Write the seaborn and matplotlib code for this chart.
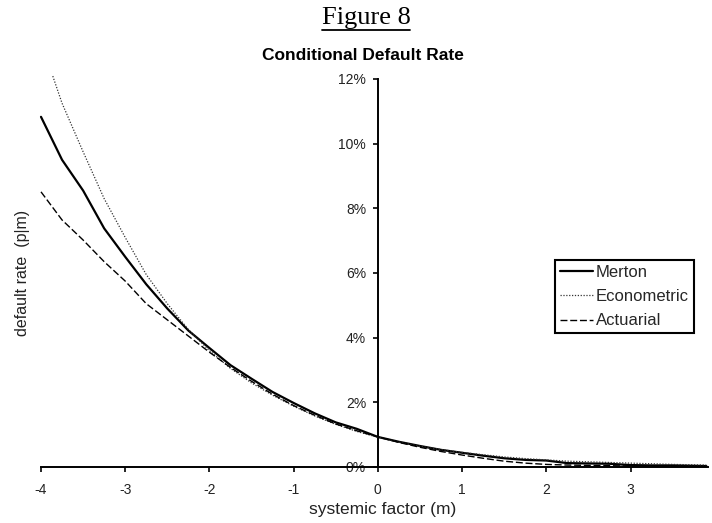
import numpy as np
import pandas as pd
import matplotlib
matplotlib.use("Agg")
import matplotlib.pyplot as plt
from matplotlib.lines import Line2D
from matplotlib.ticker import FuncFormatter
import seaborn as sns

# ---- data (default rate in %) ----
merton_m = [-4.0, -3.75, -3.5, -3.25, -3.0, -2.75, -2.5, -2.25, -2.0, -1.75, -1.5, -1.25,
            -1.0, -0.75, -0.5, -0.25, 0.0, 0.25, 0.5, 0.75, 1.0, 1.25, 1.5, 1.75, 2.0,
            2.25, 2.5, 2.75, 3.0, 3.25, 3.5, 3.9]
merton_p = [10.83, 9.50, 8.55, 7.38, 6.50, 5.65, 4.90, 4.22, 3.68, 3.15, 2.73, 2.32,
            1.98, 1.66, 1.38, 1.18, 0.93, 0.78, 0.65, 0.53, 0.44, 0.35, 0.27, 0.22, 0.20,
            0.12, 0.11, 0.10, 0.06, 0.05, 0.05, 0.03]

econ_m = [-3.86, -3.75, -3.5, -3.25, -3.0, -2.75, -2.5, -2.25, -2.0, -1.75, -1.5, -1.25,
          -1.0, -0.75, -0.5, -0.25, 0.0, 0.25, 0.5, 0.75, 1.0, 1.25, 1.5, 1.75, 2.0,
          2.25, 2.5, 2.75, 3.0, 3.25, 3.5, 3.9]
econ_p = [12.09, 11.25, 9.75, 8.30, 7.10, 5.95, 5.05, 4.25, 3.60, 3.05, 2.60, 2.22,
          1.88, 1.58, 1.32, 1.10, 0.92, 0.77, 0.64, 0.54, 0.45, 0.38, 0.31, 0.26, 0.22,
          0.18, 0.16, 0.14, 0.12, 0.10, 0.08, 0.06]

act_m = [-4.0, -3.75, -3.5, -3.25, -3.0, -2.75, -2.5, -2.25, -2.0, -1.75, -1.5, -1.25,
         -1.0, -0.75, -0.5, -0.25, 0.0, 0.25, 0.5, 0.75, 1.0, 1.25, 1.5, 1.75, 2.0,
         2.25, 2.5, 2.75, 3.0, 3.25, 3.5, 3.9]
act_p = [8.51, 7.64, 7.02, 6.35, 5.75, 5.05, 4.55, 4.05, 3.55, 3.08, 2.65, 2.25,
         1.90, 1.60, 1.33, 1.12, 0.93, 0.76, 0.61, 0.48, 0.37, 0.27, 0.18, 0.12, 0.08,
         0.06, 0.05, 0.04, 0.03, 0.03, 0.02, 0.02]

x_ticks = [-4, -3, -2, -1, 0, 1, 2, 3]
y_ticks = [0, 2, 4, 6, 8, 10, 12]

sns.set_theme(style="white")
plt.rcParams['font.family'] = ['Liberation Sans', 'DejaVu Sans']
plt.rcParams['axes.unicode_minus'] = False

fig = plt.figure(figsize=(7.12, 5.23), dpi=100)
ax = fig.add_axes([41/712, 1-467/523, (708-41)/712, (467-79)/523])

sns.lineplot(x=merton_m, y=merton_p, ax=ax, color='black', lw=1.6, label='Merton')
sns.lineplot(x=econ_m, y=econ_p, ax=ax, color='0.2', lw=0.9,
             linestyle=(0, (1, 1.3)), label='Econometric')
sns.lineplot(x=act_m, y=act_p, ax=ax, color='black', lw=1.0,
             linestyle=(0, (5, 2)), label='Actuarial')
for ln in ax.lines:
    ln.set_clip_on(False)

ax.set_xlim(-4, 3.92)
ax.set_ylim(0, 12)
ax.set_xticks(x_ticks)
ax.set_yticks(y_ticks)
ax.yaxis.set_major_formatter(FuncFormatter(lambda v, p: f"{v:.0f}%"))

for s in ['top', 'right']:
    ax.spines[s].set_visible(False)
ax.spines['left'].set_position(('data', 0))
ax.spines['bottom'].set_position(('data', 0))
for s in ['left', 'bottom']:
    ax.spines[s].set_color('black')
    ax.spines[s].set_linewidth(1.4)
    ax.spines[s].set_zorder(1)

ax.tick_params(axis='both', which='major', direction='out', length=3.5, width=1.2,
               color='black', labelsize=10, labelcolor='#222222')
ax.tick_params(axis='x', pad=8)
ax.tick_params(axis='y', pad=5)
ax.xaxis.set_ticks_position('bottom')
ax.yaxis.set_ticks_position('left')

ax.set_xlabel('systemic factor (m)', fontsize=12.5, color='#222222')
ax.set_ylabel('default rate  (p|m)', fontsize=11.5, color='#222222')
ax.xaxis.set_label_coords((383-41)/667, (467-502)/388)
ax.yaxis.set_label_coords((30-41)/667, 0.5)

leg = ax.legend(loc='upper left', bbox_to_anchor=((555-41)/667, (467-260)/388),
                frameon=True, fancybox=False, fontsize=12, handlelength=2.0,
                handletextpad=0.15, borderpad=0.3, labelspacing=0.55,
                borderaxespad=0)
leg.get_frame().set_edgecolor('black')
leg.get_frame().set_linewidth(1.5)
leg.get_frame().set_alpha(1)

fig.text(363/712, 1-55/523, 'Conditional Default Rate', ha='center', va='center',
         fontsize=12.5, fontweight='bold', color='black')
t = fig.text(366/712, 1-18/523, 'Figure 8', ha='center', va='center',
             fontsize=19, family='Liberation Serif', color='black')

fig.canvas.draw()
bb = t.get_window_extent()
y_ul = bb.y0 - 1
fig.add_artist(Line2D([bb.x0 / 712, bb.x1 / 712], [y_ul / 523, y_ul / 523],
                      transform=fig.transFigure, color='black', lw=1.3))

fig.savefig('out.png', dpi=100)
